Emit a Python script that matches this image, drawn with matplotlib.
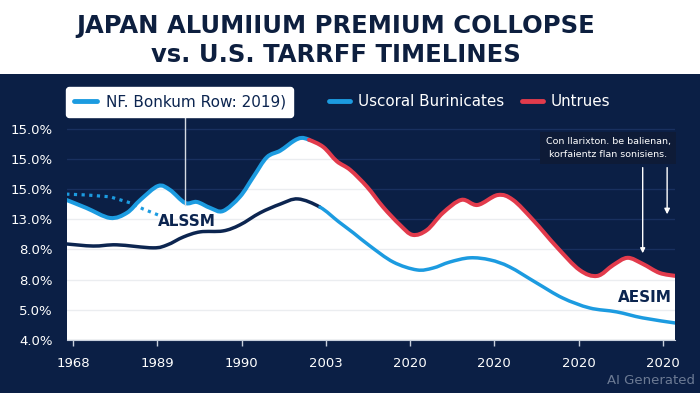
import numpy as np
import matplotlib
matplotlib.use("Agg")
import matplotlib.pyplot as plt
from matplotlib.lines import Line2D
from matplotlib.patches import Rectangle, PathPatch
from matplotlib.path import Path

# colours
NAVY = '#0b1f45'
BLUE = '#1c9be0'
RED = '#e23b4c'
DARK = '#0c2550'

# axis labels (as printed on the chart)
x_labels = ['1968', '1989', '1990', '2003', '2020', '2020', '2020', '2020']
y_labels = ['4.0%', '5.0%', '8.0%', '8.0%', '13.0%', '15.0%', '15.0%', '15.0%']

# upper curve (blue, then red after the peak), in tick units
top_x = [-0.08, 0.16, 0.44, 0.64, 0.80, 1.01, 1.15, 1.33, 1.47, 1.63, 1.78, 1.98,
         2.14, 2.30, 2.46, 2.62, 2.71, 2.80, 2.97, 3.13, 3.29, 3.49, 3.68, 3.88,
         4.03, 4.20, 4.39, 4.61, 4.80, 5.04, 5.22, 5.46, 5.74, 6.01, 6.22, 6.41,
         6.58, 6.76, 6.96, 7.15]
top_y = [4.64, 4.37, 4.04, 4.21, 4.64, 5.10, 4.97, 4.54, 4.57, 4.37, 4.27, 4.74,
         5.40, 6.05, 6.27, 6.59, 6.69, 6.63, 6.39, 5.92, 5.63, 5.07, 4.40, 3.81,
         3.48, 3.64, 4.21, 4.64, 4.47, 4.80, 4.64, 3.97, 3.08, 2.32, 2.12, 2.48,
         2.72, 2.52, 2.22, 2.12]
red_from = 2.80

# lower curve (dark navy, then light blue)
low_x = [-0.08, 0.24, 0.52, 0.95, 1.12, 1.31, 1.51, 1.78, 1.98, 2.22, 2.46, 2.67,
         2.93, 3.15, 3.33, 3.52, 3.80, 4.08, 4.27, 4.47, 4.71, 4.95, 5.18, 5.50,
         5.81, 6.13, 6.45, 6.76, 7.15]
low_y = [3.18, 3.11, 3.15, 3.05, 3.15, 3.41, 3.58, 3.61, 3.81, 4.21, 4.50, 4.67,
         4.40, 3.92, 3.54, 3.12, 2.58, 2.32, 2.38, 2.58, 2.72, 2.65, 2.42, 1.89,
         1.39, 1.06, 0.93, 0.73, 0.56]
blue_from = 2.93

# dotted series on the left
dot_x = [-0.08, 0.17, 0.44, 0.68, 0.83, 1.01]
dot_y = [4.83, 4.80, 4.74, 4.54, 4.34, 4.14]


def bezier_segs(x, y):
    # smooth curve through the points (Catmull-Rom as cubic Bezier pieces)
    p = np.column_stack([x, y])
    q = np.vstack([p[0], p, p[-1]])
    segs = []
    for i in range(len(p) - 1):
        p0, p1, p2, p3 = q[i], q[i + 1], q[i + 2], q[i + 3]
        segs.append((p1, p1 + (p2 - p0) / 6, p2 - (p3 - p1) / 6, p2))
    return segs


def seg_path(segs, close_to=None):
    verts = [segs[0][0]]
    codes = [Path.MOVETO]
    for s in segs:
        verts += [s[1], s[2], s[3]]
        codes += [Path.CURVE4] * 3
    if close_to is not None:
        verts += [(segs[-1][3][0], close_to), (segs[0][0][0], close_to), segs[0][0]]
        codes += [Path.LINETO, Path.LINETO, Path.CLOSEPOLY]
    return Path(verts, codes)


def draw_line(ax, segs, color, lw):
    ax.add_patch(PathPatch(seg_path(segs), facecolor='none', edgecolor=color, lw=lw,
                           capstyle='round', joinstyle='round', zorder=5))


fig = plt.figure(figsize=(7, 3.93), dpi=100)
fig.patch.set_facecolor('white')
fig.patches.append(Rectangle((0, 0), 1, 1 - 74 / 393, transform=fig.transFigure,
                             facecolor=NAVY, edgecolor='none', zorder=-10))

ax = fig.add_axes([0.095, 0.135, 0.869, 0.557])
ax.set_facecolor(NAVY)
ax.set_xlim(-0.077, 7.141)
ax.set_ylim(0, 7.25)

# grid: lighter navy on the dark part, faint grey on the white part
for lv in range(1, 8):
    ax.axhline(lv, color='#1b3262', lw=1, zorder=1)
    ax.axhline(lv, color=NAVY, alpha=0.08, lw=1, zorder=3)

top = bezier_segs(top_x, top_y)
low = bezier_segs(low_x, low_y)
k_top = top_x.index(red_from)
k_low = low_x.index(blue_from)

ax.add_patch(PathPatch(seg_path(top, close_to=0), facecolor='white', lw=0, zorder=2))

draw_line(ax, top[:k_top], BLUE, 2.9)
draw_line(ax, top[k_top:], RED, 2.9)
draw_line(ax, low[:k_low], DARK, 2.5)
draw_line(ax, low[k_low:], BLUE, 2.5)

ax.plot(dot_x, dot_y, color=BLUE, lw=2.3, ls=(0, (1, 1.4)), zorder=5)

# labels in the plot
ax.text(1.35, 3.91, 'ALSSM', color=DARK, fontsize=11, fontweight='bold',
        ha='center', va='center', zorder=6)
ax.text(6.79, 1.39, 'AESIM', color=DARK, fontsize=11, fontweight='bold',
        ha='center', va='center', zorder=6)

# connector from the boxed legend down to the curve
ax.plot([1.33, 1.33], [4.47, 7.38], color='#d6dbe3', lw=1, clip_on=False, zorder=6)

# note box with arrows
fig.text(608 / 700, 1 - 148 / 393,
         'Con llarixton. be balienan,\nkorfaientz flan sonisiens.',
         color='white', fontsize=6.8, ha='center', va='center', linespacing=1.5,
         bbox=dict(boxstyle='square,pad=0.55', facecolor='#0e1b37', edgecolor='none'))
ax.annotate('', xy=(6.76, 2.78), xytext=(6.76, 5.8),
            arrowprops=dict(arrowstyle='-|>', color='white', lw=1, mutation_scale=7),
            zorder=7)
ax.annotate('', xy=(7.05, 4.07), xytext=(7.05, 5.8),
            arrowprops=dict(arrowstyle='-|>', color='white', lw=1, mutation_scale=8),
            zorder=7, annotation_clip=False)

# ticks
ax.set_xticks(range(len(x_labels)))
ax.set_xticklabels(x_labels)
ax.set_yticks(range(len(y_labels)))
ax.set_yticklabels(y_labels)
ax.tick_params(axis='x', colors='#c8d0dc', labelcolor='white', labelsize=9.5,
               length=4, width=1, pad=8)
ax.tick_params(axis='y', labelcolor='white', labelsize=9.5, length=0, pad=10)
for s in ['top', 'right', 'left']:
    ax.spines[s].set_visible(False)
ax.spines['bottom'].set_color('#c8d0dc')

# title
fig.text(0.48, 1 - 26 / 393, 'JAPAN ALUMIIUM PREMIUM COLLOPSE', color='#0d1f3f',
         fontsize=17.5, fontweight='bold', ha='center', va='center')
fig.text(0.48, 1 - 55 / 393, 'vs. U.S. TARRFF TIMELINES', color='#0d1f3f',
         fontsize=17.5, fontweight='bold', ha='center', va='center')

# legends
leg1 = fig.legend(handles=[Line2D([], [], color=BLUE, lw=3.5, solid_capstyle='round')],
                  labels=['NF. Bonkum Row: 2019)'], loc='center left',
                  bbox_to_anchor=(66 / 700, 1 - 102 / 393), frameon=True,
                  facecolor='white', edgecolor='white', framealpha=1, fancybox=True,
                  fontsize=11, handlelength=1.5, handletextpad=0.6,
                  borderpad=0.5, borderaxespad=0)
for t in leg1.get_texts():
    t.set_color(DARK)
leg2 = fig.legend(handles=[Line2D([], [], color=BLUE, lw=3.5, solid_capstyle='round'),
                           Line2D([], [], color=RED, lw=3.5, solid_capstyle='round')],
                  labels=['Uscoral Burinicates', 'Untrues'], loc='center left',
                  bbox_to_anchor=(323 / 700, 1 - 102 / 393), frameon=False, ncol=2,
                  fontsize=10.9, handlelength=1.4, handletextpad=0.5,
                  columnspacing=1.2, borderaxespad=0)
for t in leg2.get_texts():
    t.set_color('white')

fig.text(695 / 700, 1 - 381 / 393, 'AI Generated', color='#95a1b5', alpha=0.7,
         fontsize=9.5, ha='right', va='center')

fig.savefig('out.png', dpi=100, facecolor=fig.get_facecolor())
